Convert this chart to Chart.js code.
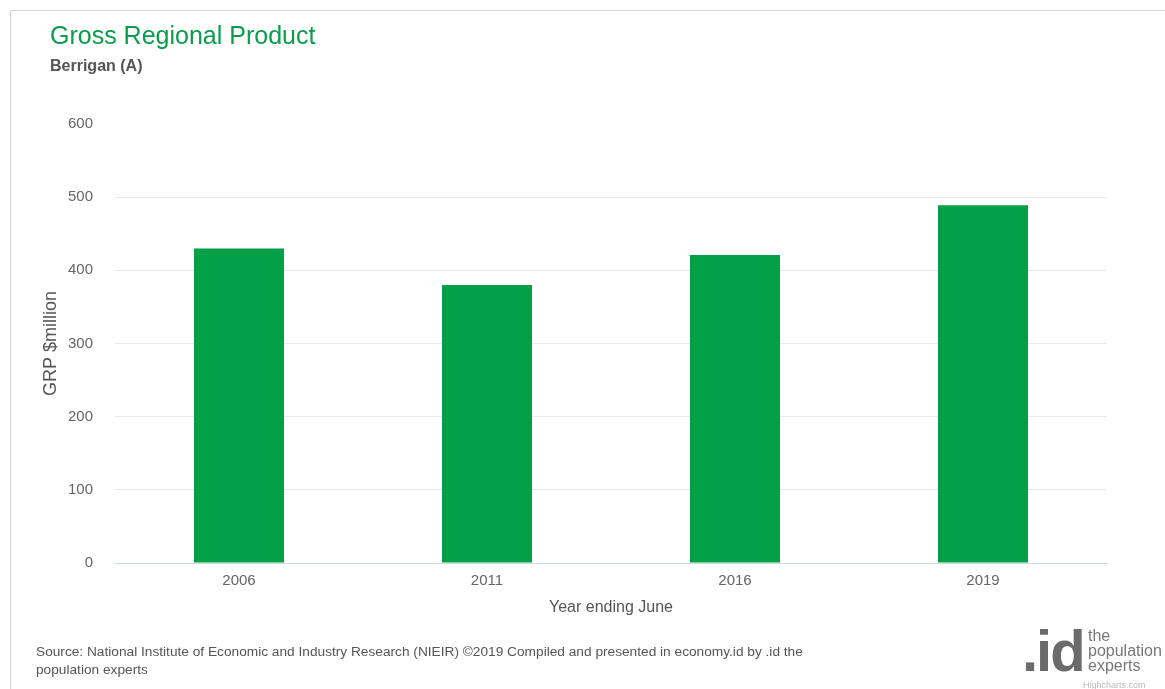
<!DOCTYPE html>
<html>
<head>
<meta charset="utf-8">
<script src="https://cdn.jsdelivr.net/npm/chart.js@4.4.0/dist/chart.umd.min.js"></script>
<style>
  html, body { margin:0; padding:0; background:#fff; }
  body { width:1165px; height:689px; position:relative; overflow:hidden; font-family:"Liberation Sans", Arial, sans-serif; }
  #frame { position:absolute; left:10px; top:10px; right:0; bottom:0; border-left:1px solid #d4d4d4; border-top:1px solid #d4d4d4; }
  #wrap { position:absolute; left:0; top:0; width:1165px; height:689px; }
  .title { position:absolute; left:50px; top:21px; font-size:25px; color:#0a9d4c; white-space:nowrap; }
  .subtitle { position:absolute; left:50px; top:57px; font-size:16px; font-weight:bold; color:#555; white-space:nowrap; }
  .source { position:absolute; left:36px; top:643px; font-size:13.7px; line-height:18px; color:#555; white-space:nowrap; }
  .logo-id { position:absolute; left:1022px; top:619px; font-size:58px; font-weight:bold; color:#6b6b6b; letter-spacing:-2px; line-height:64px; }
  .logo-txt { position:absolute; left:1088px; top:628px; font-size:16px; line-height:15px; color:#777; }
  .hc { position:absolute; left:1083px; top:680px; font-size:9px; color:#bbb; }
</style>
</head>
<body>
<div id="frame"></div>
<div id="wrap"><canvas id="c" width="1165" height="689"></canvas></div>
<div class="title">Gross Regional Product</div>
<div class="subtitle">Berrigan (A)</div>
<div class="source">Source: National Institute of Economic and Industry Research (NIEIR) ©2019 Compiled and presented in economy.id by .id the<br>population experts</div>
<div class="logo-id">.id</div>
<div class="logo-txt">the<br>population<br>experts</div>
<div class="hc">Highcharts.com</div>
<script>
const categories = ["2006", "2011", "2016", "2019"];
const grpValues = [430, 380, 421, 489];
const yTicks = [0, 100, 200, 300, 400, 500, 600];

const ctx = document.getElementById('c').getContext('2d');
new Chart(ctx, {
  type: 'bar',
  data: {
    labels: categories,
    datasets: [{
      label: 'GRP $million',
      data: grpValues,
      backgroundColor: '#03a047',
      borderWidth: 0,
      categoryPercentage: 1.0,
      barPercentage: 0.363
    }]
  },
  options: {
    responsive: false,
    animation: false,
    devicePixelRatio: 1,
    layout: { padding: { left: 36, right: 58, top: 124, bottom: 68 } },
    plugins: { legend: { display: false }, tooltip: { enabled: false } },
    scales: {
      x: {
        grid: { display: false, drawTicks: false },
        border: { display: true, color: '#ccd6eb', width: 1 },
        ticks: { color: '#666', font: { family: 'Liberation Sans', size: 15 }, padding: 9 },
        title: { display: true, text: 'Year ending June', color: '#555', font: { family: 'Liberation Sans', size: 16 }, padding: { top: 4, bottom: 4 } },
        afterFit: (s) => { s.height = 58; }
      },
      y: {
        min: 0, max: 600,
        afterBuildTicks: (s) => { s.ticks = yTicks.map(v => ({ value: v })); },
        grid: {
          drawTicks: false,
          color: (c) => (c.tick && c.tick.value === 600) ? 'rgba(0,0,0,0)' : (c.tick && c.tick.value === 0 ? '#ccd6eb' : '#e9e9e9'),
          lineWidth: 1
        },
        border: { display: false },
        ticks: { color: '#666', font: { family: 'Liberation Sans', size: 15 }, padding: 22 },
        title: { display: true, text: 'GRP $million', color: '#555', font: { family: 'Liberation Sans', size: 18 }, padding: { top: 4, bottom: 4 } },
        afterFit: (s) => { s.width = 79; }
      }
    }
  }
});
</script>
</body>
</html>
